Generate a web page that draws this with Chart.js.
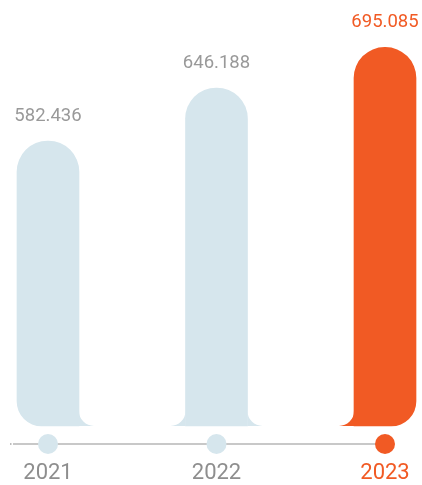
<!DOCTYPE html>
<html>
<head>
<meta charset="utf-8">
<script src="https://cdn.jsdelivr.net/npm/chart.js@4"></script>
<style>
  html, body { margin: 0; padding: 0; background: #fff; }
</style>
</head>
<body>
<canvas id="barChart" width="422" height="485"></canvas>
<script>
const years = ['2021', '2022', '2023'];
const values = [582.436, 646.188, 695.085];
const valueLabels = ['582.436', '646.188', '695.085'];
const barColors = ['#d6e6ed', '#d6e6ed', '#f15a24'];
const textColors = ['#999999', '#999999', '#f15a24'];
const yearColors = ['#8e8e8e', '#8e8e8e', '#f15a24'];
const yMin = 240;
const yMax = 752;

const FONT = 'Roboto, "Liberation Sans", sans-serif';

// pequenos "pés" côncavos na base de cada barra
const footPlugin = {
    id: 'foot',
    afterDatasetsDraw(chart) {
        const ctx = chart.ctx;
        const bars = chart.getDatasetMeta(0).data;
        const r = 15;
        bars.forEach((bar, i) => {
            const left = bar.x - bar.width / 2;
            const right = bar.x + bar.width / 2;
            const base = bar.base;
            ctx.save();
            ctx.fillStyle = barColors[i];
            if (i > 0) {
                ctx.beginPath();
                ctx.moveTo(left, base - r);
                ctx.lineTo(left, base);
                ctx.lineTo(left - r, base);
                ctx.arc(left - r, base - r, r, Math.PI / 2, 0, true);
                ctx.closePath();
                ctx.fill();
            }
            if (i < bars.length - 1) {
                ctx.beginPath();
                ctx.moveTo(right, base - r);
                ctx.lineTo(right, base);
                ctx.lineTo(right + r, base);
                ctx.arc(right + r, base - r, r, Math.PI / 2, Math.PI, false);
                ctx.closePath();
                ctx.fill();
            }
            ctx.restore();
        });
    }
};

// valores em cima das barras
const valuePlugin = {
    id: 'values',
    afterDatasetsDraw(chart) {
        const ctx = chart.ctx;
        chart.getDatasetMeta(0).data.forEach((bar, i) => {
            ctx.save();
            ctx.font = '18.5px ' + FONT;
            ctx.fillStyle = textColors[i];
            ctx.textAlign = 'center';
            ctx.textBaseline = 'middle';
            ctx.fillText(valueLabels[i], bar.x, bar.y - 25);
            ctx.restore();
        });
    }
};

// linha do tempo com bolinhas e anos
const timelinePlugin = {
    id: 'timeline',
    afterDraw(chart) {
        const ctx = chart.ctx;
        const xs = chart.scales.x;
        const y = chart.chartArea.bottom + 18;
        const lastX = xs.getPixelForTick(years.length - 1);
        ctx.save();
        ctx.strokeStyle = '#c8c8c8';
        ctx.lineWidth = 2;
        ctx.beginPath();
        ctx.moveTo(xs.left - 35, y);
        ctx.lineTo(lastX, y);
        ctx.stroke();
        ctx.fillStyle = '#bdbdbd';
        ctx.fillRect(xs.left - 38, y - 1, 1.5, 2);
        years.forEach((yr, i) => {
            const x = xs.getPixelForTick(i);
            ctx.beginPath();
            ctx.fillStyle = barColors[i];
            ctx.arc(x, y, 10, 0, Math.PI * 2);
            ctx.fill();
            ctx.font = '22px ' + FONT;
            ctx.fillStyle = yearColors[i];
            ctx.textAlign = 'center';
            ctx.textBaseline = 'middle';
            ctx.fillText(xs.getLabelForValue(i), x, y + 29);
        });
        ctx.restore();
    }
};

const ctx = document.getElementById('barChart').getContext('2d');
const barChart = new Chart(ctx, {
    type: 'bar',
    data: {
        labels: years,
        datasets: [{
            data: values,
            base: yMin,
            backgroundColor: barColors,
            borderWidth: 0,
            borderSkipped: false,
            barThickness: 62,
            clip: false,
            borderRadius: (c) => ({
                topLeft: 31,
                topRight: 31,
                bottomLeft: c.dataIndex === 0 ? 25 : 0,
                bottomRight: c.dataIndex === years.length - 1 ? 25 : 0
            })
        }]
    },
    options: {
        responsive: false,
        animation: false,
        layout: { padding: { left: 48, right: 37, top: 0, bottom: 59 } },
        plugins: {
            legend: { display: false },
            tooltip: { enabled: false }
        },
        scales: {
            x: {
                display: false,
                offset: false
            },
            y: {
                display: false,
                min: yMin,
                max: yMax
            }
        }
    },
    plugins: [footPlugin, valuePlugin, timelinePlugin]
});
</script>
</body>
</html>
